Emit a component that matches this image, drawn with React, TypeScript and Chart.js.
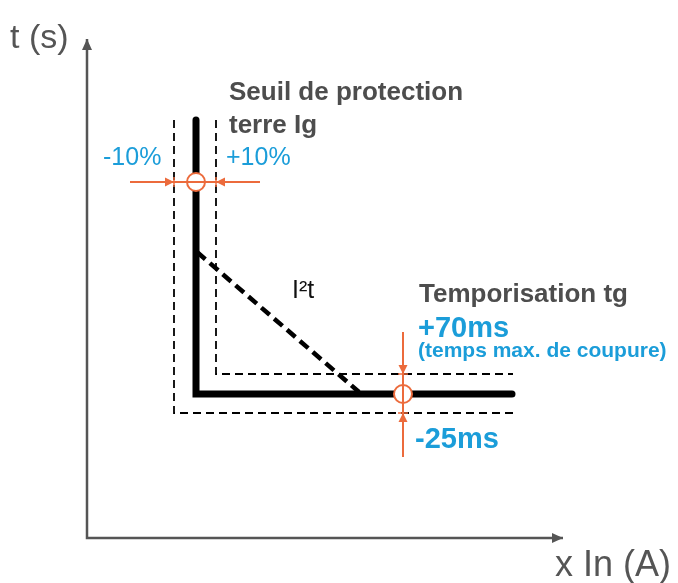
import React, { useEffect, useRef } from "react";
import { Chart, registerables } from "chart.js";

Chart.register(...registerables);

// Schematic coordinates (1 unit = current / time step), origin at the axes corner
const X_RANGE = [-8.7, 59.1];
const Y_RANGE = [-4.5, 53.8];

const axisPath = [
  { x: 47.6, y: 0 },
  { x: 0, y: 0 },
  { x: 0, y: 49.9 },
];

// Ig threshold and its tolerance band
const Ig = 10.9;
const IgLow = 8.7;
const IgHigh = 12.9;
// tg delay and its tolerance band
const tg = 14.4;
const tgHigh = 16.4;
const tgLow = 12.5;
const curveTop = 41.8;
const curveEnd = 42.5;
const bandEnd = 42.6;

const mainCurve = [
  { x: Ig, y: curveTop },
  { x: Ig, y: tg },
  { x: curveEnd, y: tg },
];
const outerBand = [
  { x: IgLow, y: curveTop },
  { x: IgLow, y: tgLow },
  { x: bandEnd, y: tgLow },
];
const innerBand = [
  { x: IgHigh, y: curveTop },
  { x: IgHigh, y: tgHigh },
  { x: bandEnd, y: tgHigh },
];
const i2tCurve = [
  { x: 11.0, y: 28.6 },
  { x: 27.2, y: 14.6 },
];

const IgMarkY = 35.6;
const tgMarkX = 31.6;
const igTolLine = [
  { x: 4.3, y: IgMarkY },
  { x: 17.3, y: IgMarkY },
];
const tgTolLine = [
  { x: tgMarkX, y: 20.6 },
  { x: tgMarkX, y: 8.1 },
];
const settingPoints = [
  { x: Ig, y: IgMarkY },
  { x: tgMarkX, y: tg },
];
const vTicks = [
  { x: IgLow, y: IgMarkY },
  { x: IgHigh, y: IgMarkY },
];
const hTicks = [
  { x: tgMarkX, y: tgHigh },
  { x: tgMarkX, y: tgLow },
];

const orangeArrows = [
  { x: IgLow, y: IgMarkY, dir: "right" },
  { x: IgHigh, y: IgMarkY, dir: "left" },
  { x: tgMarkX, y: tgHigh, dir: "down" },
  { x: tgMarkX, y: tgLow, dir: "up" },
];
const axisArrows = [
  { x: 47.6, y: 0, dir: "right" },
  { x: 0, y: 49.9, dir: "up" },
];

const GRAY = "#555555";
const TEXT_GRAY = "#4d4d4d";
const BLUE = "#1b9dd9";
const ORANGE = "#ec6b3c";
const FONT = "'Liberation Sans', Arial, Helvetica, sans-serif";

const labels = [
  { text: "t (s)", x: -7.7, y: 49.0, font: `34px ${FONT}`, color: GRAY },
  { text: "x In (A)", x: 46.8, y: -3.8, font: `36px ${FONT}`, color: GRAY },
  { text: "Seuil de protection", x: 14.2, y: 43.8, font: `bold 26px ${FONT}`, color: TEXT_GRAY },
  { text: "terre Ig", x: 14.2, y: 40.5, font: `bold 26px ${FONT}`, color: TEXT_GRAY },
  { text: "-10%", x: 1.6, y: 37.3, font: `25px ${FONT}`, color: BLUE },
  { text: "+10%", x: 13.9, y: 37.3, font: `25px ${FONT}`, color: BLUE },
  { text: "I²t", x: 20.5, y: 24.0, font: `25px ${FONT}`, color: "#111111" },
  { text: "Temporisation tg", x: 33.2, y: 23.6, font: `bold 26px ${FONT}`, color: TEXT_GRAY },
  { text: "+70ms", x: 33.1, y: 20.1, font: `bold 29px ${FONT}`, color: BLUE },
  { text: "(temps max. de coupure)", x: 33.1, y: 18.1, font: `bold 21px ${FONT}`, color: BLUE },
  { text: "-25ms", x: 32.8, y: 9.0, font: `bold 29px ${FONT}`, color: BLUE },
];

function drawArrow(ctx: CanvasRenderingContext2D, px: number, py: number, dir: string, len: number, half: number) {
  ctx.beginPath();
  ctx.moveTo(px, py);
  if (dir === "right") {
    ctx.lineTo(px - len, py - half);
    ctx.lineTo(px - len, py + half);
  } else if (dir === "left") {
    ctx.lineTo(px + len, py - half);
    ctx.lineTo(px + len, py + half);
  } else if (dir === "down") {
    ctx.lineTo(px - half, py - len);
    ctx.lineTo(px + half, py - len);
  } else {
    ctx.lineTo(px - half, py + len);
    ctx.lineTo(px + half, py + len);
  }
  ctx.closePath();
  ctx.fill();
}

const overlayPlugin = {
  id: "overlay",
  afterDatasetsDraw(chart: any) {
    const { ctx, scales } = chart;
    const xs = scales.x;
    const ys = scales.y;
    ctx.save();
    ctx.fillStyle = ORANGE;
    orangeArrows.forEach((a) => drawArrow(ctx, xs.getPixelForValue(a.x), ys.getPixelForValue(a.y), a.dir, 9, 4.5));
    ctx.fillStyle = GRAY;
    axisArrows.forEach((a) => drawArrow(ctx, xs.getPixelForValue(a.x), ys.getPixelForValue(a.y), a.dir, 11, 5));
    ctx.textAlign = "left";
    ctx.textBaseline = "alphabetic";
    labels.forEach((l) => {
      ctx.font = l.font;
      ctx.fillStyle = l.color;
      ctx.fillText(l.text, xs.getPixelForValue(l.x), ys.getPixelForValue(l.y));
    });
    ctx.restore();
  },
};

const line = (data: any[], color: string, width: number, extra: any = {}) => ({
  data,
  showLine: true,
  fill: false,
  borderColor: color,
  borderWidth: width,
  pointRadius: 0,
  pointHoverRadius: 0,
  tension: 0,
  ...extra,
});

export default function App() {
  const ref = useRef<HTMLCanvasElement>(null);
  useEffect(() => {
    document.body.style.margin = "0";
    const canvas = ref.current;
    if (!canvas) return;
    const chart = new Chart(canvas, {
      type: "scatter",
      data: {
        datasets: [
          {
            data: vTicks,
            showLine: false,
            pointStyle: "line",
            rotation: 90,
            pointRadius: 5,
            pointBorderColor: ORANGE,
            pointBorderWidth: 1.5,
            order: 0,
          } as any,
          {
            data: hTicks,
            showLine: false,
            pointStyle: "line",
            rotation: 0,
            pointRadius: 5,
            pointBorderColor: ORANGE,
            pointBorderWidth: 1.5,
            order: 1,
          } as any,
          line(igTolLine, ORANGE, 2, { order: 2 }),
          line(tgTolLine, ORANGE, 2, { order: 3 }),
          {
            data: settingPoints,
            showLine: false,
            pointRadius: 9,
            pointBackgroundColor: "#ffffff",
            pointBorderColor: ORANGE,
            pointBorderWidth: 2,
            order: 4,
          } as any,
          line(i2tCurve, "#000000", 4.5, { borderDash: [11, 6], order: 5 }),
          line(mainCurve, "#000000", 7, { borderCapStyle: "round", borderJoinStyle: "miter", order: 6 }),
          line(outerBand, "#000000", 1.8, { borderDash: [8, 5], order: 7 }),
          line(innerBand, "#000000", 1.8, { borderDash: [8, 5], order: 8 }),
          line(axisPath, GRAY, 2.5, { borderJoinStyle: "miter", order: 9 }),
        ],
      },
      options: {
        responsive: false,
        animation: false,
        events: [],
        layout: { padding: 0, autoPadding: false },
        plugins: { legend: { display: false }, tooltip: { enabled: false } },
        scales: {
          x: { type: "linear", min: X_RANGE[0], max: X_RANGE[1], display: false },
          y: { type: "linear", min: Y_RANGE[0], max: Y_RANGE[1], display: false },
        },
      },
      plugins: [overlayPlugin],
    });
    return () => chart.destroy();
  }, []);
  return <canvas ref={ref} width={678} height={583} style={{ display: "block" }} />;
}
